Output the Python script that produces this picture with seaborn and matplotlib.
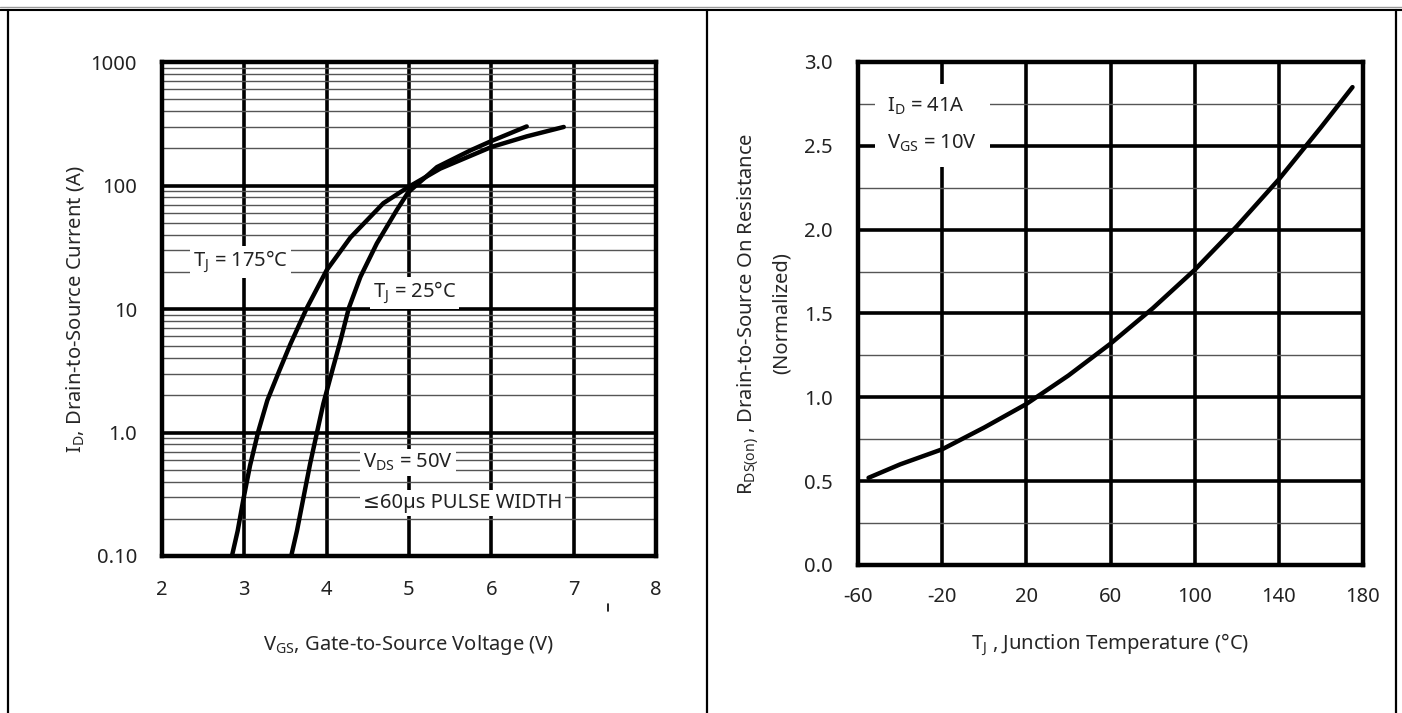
import matplotlib
matplotlib.use("Agg")
import matplotlib.pyplot as plt
import pandas as pd
import seaborn as sns
from matplotlib.lines import Line2D
from matplotlib.ticker import FixedLocator, NullFormatter

# Transfer characteristics (left)
vgs_175 = [2.85, 2.92, 2.99, 3.07, 3.17, 3.28, 3.42, 3.56, 3.76, 4.00, 4.29, 4.69, 4.99, 5.38, 6.00, 6.43, 6.88]
id_175 = [0.10, 0.16, 0.29, 0.54, 1.02, 1.82, 3.1, 5.2, 10.2, 20.6, 38, 72, 97, 137, 205, 250, 298]
vgs_25 = [3.57, 3.64, 3.72, 3.80, 3.88, 3.96, 4.07, 4.17, 4.27, 4.41, 4.61, 4.85, 4.99, 5.34, 5.75, 6.00, 6.43]
id_25 = [0.10, 0.16, 0.30, 0.56, 0.98, 1.71, 3.2, 5.6, 10.2, 18.2, 34, 63, 88, 141, 193, 229, 301]

# Normalized Rds(on) vs Tj (right)
tj = [-55, -40, -20, 0, 20, 40, 60, 80, 100, 120, 140, 160, 175]
rds = [0.52, 0.60, 0.69, 0.82, 0.96, 1.13, 1.32, 1.53, 1.76, 2.02, 2.30, 2.61, 2.85]

left_xticks = [2, 3, 4, 5, 6, 7, 8]
left_yticks = [0.1, 1, 10, 100, 1000]
left_ylabels = ["0.10", "1.0", "10", "100", "1000"]
right_xticks = [-60, -20, 20, 60, 100, 140, 180]
right_yticks = [0.0, 0.5, 1.0, 1.5, 2.0, 2.5, 3.0]

df_left = pd.concat([
    pd.DataFrame({"vgs": vgs_175, "id": id_175, "tj": "175"}),
    pd.DataFrame({"vgs": vgs_25, "id": id_25, "tj": "25"}),
])
df_right = pd.DataFrame({"tj": tj, "rds": rds})

sns.set_theme(style="white")
FONT = ["Noto Sans", "DejaVu Sans"]
plt.rcParams["font.family"] = FONT
plt.rcParams["mathtext.fontset"] = "custom"
plt.rcParams["mathtext.rm"] = "Noto Sans"
plt.rcParams["mathtext.it"] = "Noto Sans"
plt.rcParams["axes.unicode_minus"] = False
plt.rcParams["text.color"] = "#222222"

fig = plt.figure(figsize=(14.02, 7.13), dpi=100)
ax1 = fig.add_axes([0.1155, 0.2202, 0.3524, 0.6928])
ax2 = fig.add_axes([0.612, 0.2076, 0.3602, 0.7055])

fs = 14.5

# ---- left plot
sns.lineplot(data=df_left, x="vgs", y="id", units="tj", estimator=None,
             color="black", linewidth=3.2, ax=ax1, legend=False)
ax1.set_yscale("log")
ax1.set_xlim(2, 8)
ax1.set_ylim(0.1, 1000)
ax1.set_xticks(left_xticks)
ax1.set_yticks(left_yticks)
ax1.set_yticklabels(left_ylabels)
ax1.yaxis.set_minor_formatter(NullFormatter())
ax1.grid(True, which="major", color="black", linewidth=2.6)
ax1.grid(True, which="minor", axis="y", color="#555555", linewidth=1.0)
ax1.tick_params(axis="both", which="major", length=0, pad=18, labelsize=fs, labelcolor="#222222")
ax1.tick_params(axis="x", which="major", pad=17)
ax1.tick_params(axis="y", which="minor", direction="in", length=9, width=1.6, color="black")
ax1.set_xlabel(r"V$_\mathregular{GS}$, Gate-to-Source Voltage (V)", fontsize=fs, labelpad=24)
ax1.set_ylabel(r"I$_\mathregular{D}$, Drain-to-Source Current (A)", fontsize=fs, labelpad=3)

box = dict(boxstyle="square,pad=0.15", facecolor="white", edgecolor="none")
ax1.text(2.38, 22, r"T$_\mathregular{J}$ = 175°C", fontsize=fs, va="baseline", bbox=box, zorder=5)
ax1.text(4.56, 12.3, r"T$_\mathregular{J}$ = 25°C", fontsize=fs, va="baseline", bbox=box, zorder=5)
ax1.text(4.44, 0.52, r"V$_\mathregular{DS}$ = 50V", fontsize=fs, va="baseline", bbox=box, zorder=5)
ax1.text(4.44, 0.245, "≤60µs PULSE WIDTH", fontsize=fs, va="baseline", bbox=box, zorder=5)

# ---- right plot
sns.lineplot(data=df_right, x="tj", y="rds", color="black", linewidth=3.2, ax=ax2)
ax2.set_xlim(-60, 180)
ax2.set_ylim(0, 3.0)
ax2.set_xticks(right_xticks)
ax2.set_yticks(right_yticks)
ax2.set_yticklabels([f"{v:.1f}" for v in right_yticks])
ax2.yaxis.set_minor_locator(FixedLocator([0.25, 0.75, 1.25, 1.75, 2.25, 2.75]))
ax2.grid(True, which="major", color="black", linewidth=2.6)
ax2.grid(True, which="minor", axis="y", color="#555555", linewidth=1.0)
ax2.tick_params(axis="both", which="major", length=0, pad=18, labelsize=fs, labelcolor="#222222")
ax2.tick_params(axis="x", which="major", pad=16)
ax2.tick_params(axis="y", which="minor", direction="in", length=9, width=1.6, color="black")
ax2.set_xlabel(r"T$_\mathregular{J}$ , Junction Temperature (°C)", fontsize=fs, labelpad=18)
ax2.set_ylabel("R$_\\mathregular{DS(on)}$ , Drain-to-Source On Resistance\n(Normalized)",
               fontsize=fs, labelpad=9, multialignment="center", linespacing=1.7)
ax2.text(-46, 2.48, "I$_\\mathregular{D}$ = 41A\nV$_\\mathregular{GS}$ = 10V", fontsize=fs,
         va="baseline", linespacing=2.0,
         bbox=dict(boxstyle="square,pad=0.6", facecolor="white", edgecolor="none"), zorder=5)

for ax in (ax1, ax2):
    ax.set_axisbelow(True)
    for s in ax.spines.values():
        s.set_visible(True)
        s.set_color("black")
        s.set_linewidth(3.2)
        s.set_zorder(6)

# page frame
fig.add_artist(Line2D([0, 1], [0.9895, 0.9895], color="#999999", linewidth=1.0))
fig.add_artist(Line2D([0, 1], [0.9865, 0.9865], color="black", linewidth=1.5))
for xf in (0.0057, 0.5043, 0.9957):
    fig.add_artist(Line2D([xf, xf], [0, 0.9865], color="black", linewidth=1.6))
fig.add_artist(Line2D([608 / 1402, 608 / 1402], [1 - 604 / 713, 1 - 611 / 713], color="black", linewidth=1.2))

fig.savefig("out.png", dpi=100, facecolor="white")
